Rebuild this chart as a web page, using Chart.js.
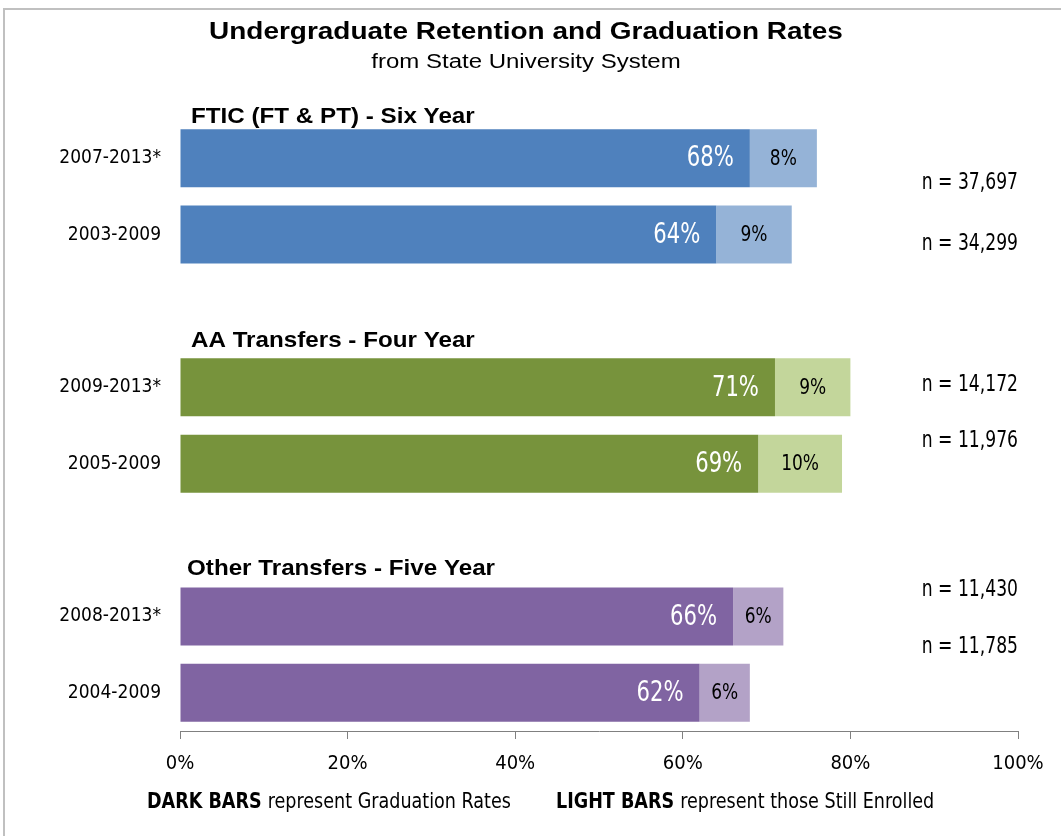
<!DOCTYPE html>
<html>
<head>
<meta charset="utf-8">
<script src="https://cdn.jsdelivr.net/npm/chart.js@4"></script>
<style>
  html, body { margin: 0; padding: 0; background: #fff; }
  #wrap { width: 1061px; height: 836px; position: relative; }
</style>
</head>
<body>
<div id="wrap"><canvas id="rates"></canvas></div>
<script>
const categories = ["2007-2013*", "2003-2009", "", "2009-2013*", "2005-2009", "", "2008-2013*", "2004-2009"];
const graduated = [68, 64, null, 71, 69, null, 66, 62];
const stillEnrolled = [8, 9, null, 9, 10, null, 6, 6];
const sampleSizes = ["n = 37,697", "n = 34,299", "", "n = 14,172", "n = 11,976", "", "n = 11,430", "n = 11,785"];
const groupTitles = ["FTIC (FT & PT) - Six Year", "AA Transfers - Four Year", "Other Transfers - Five Year"];
const groupStart = [0, 3, 6];
const xTicks = [0, 20, 40, 60, 80, 100];

const darkColors = ["#4f81bd", "#4f81bd", null, "#77933c", "#77933c", null, "#8064a2", "#8064a2"];
const lightColors = ["#95b3d7", "#95b3d7", null, "#c3d69b", "#c3d69b", null, "#b3a2c7", "#b3a2c7"];

const NARROW = '"Liberation Sans Narrow", "DejaVu Sans Condensed", "Liberation Sans", sans-serif';
const ARIAL = '"Liberation Sans", Arial, sans-serif';

// n = ... labels sit at uneven heights in the original
const nOffsets = [25, 9, 0, -2, -23, 0, -26, -46];
const headOffsets = [-41, -46, -48];

// text squeezed/stretched sideways to mimic the original fonts
function txt(ctx, s, x, y, font, sx, align) {
  ctx.save();
  ctx.font = font;
  ctx.textAlign = align;
  ctx.translate(x, y);
  ctx.scale(sx, 1);
  ctx.fillText(s, 0, 0);
  const w = ctx.measureText(s).width * sx;
  ctx.restore();
  return w;
}

const overlay = {
  id: "overlay",
  afterDraw(chart) {
    const { ctx, scales } = chart;
    const xs = scales.x, ys = scales.y;
    ctx.save();

    // frame
    ctx.strokeStyle = "#c0c0c0";
    ctx.lineWidth = 2;
    ctx.beginPath();
    ctx.moveTo(4, 836);
    ctx.lineTo(4, 9);
    ctx.lineTo(1061, 9);
    ctx.stroke();

    ctx.fillStyle = "#000";
    ctx.textBaseline = "middle";
    txt(ctx, "Undergraduate Retention and Graduation Rates", 526, 32, "bold 24px " + ARIAL, 1.165, "center");
    txt(ctx, "from State University System", 526, 62, "20px " + ARIAL, 1.2, "center");

    // group headings
    groupTitles.forEach((t, i) => {
      const y = ys.getPixelForValue(groupStart[i]) + headOffsets[i];
      txt(ctx, t, i === 2 ? 187 : 191, y, "bold 22px " + ARIAL, 1.1, "left");
    });

    // value labels
    categories.forEach((c, i) => {
      if (graduated[i] == null) return;
      const y = ys.getPixelForValue(i);
      const xd = xs.getPixelForValue(graduated[i]);
      const xl = xs.getPixelForValue(graduated[i] + stillEnrolled[i]);
      ctx.fillStyle = "#fff";
      txt(ctx, graduated[i] + "%", xd - 16, y + 1, "28px " + NARROW, 0.84, "right");
      ctx.fillStyle = "#000";
      txt(ctx, stillEnrolled[i] + "%", (xd + xl) / 2, y + 1, "21px " + NARROW, 0.9, "center");
      txt(ctx, sampleSizes[i], 1018, y + nOffsets[i], "23px " + NARROW, 0.83, "right");
    });

    // footer
    const footer = (x, bold, rest) => {
      const w = txt(ctx, bold + " ", x, 803, "bold 21px " + NARROW, 0.93, "left");
      txt(ctx, rest, x + w, 803, "21px " + NARROW, 0.93, "left");
    };
    footer(147, "DARK BARS", "represent Graduation Rates");
    footer(556, "LIGHT BARS", "represent those Still Enrolled");

    ctx.restore();
  }
};

new Chart(document.getElementById("rates"), {
  type: "bar",
  data: {
    labels: categories,
    datasets: [
      { label: "Graduation Rates", data: graduated, backgroundColor: darkColors },
      { label: "Still Enrolled", data: stillEnrolled, backgroundColor: lightColors },
    ],
  },
  options: {
    indexAxis: "y",
    responsive: true,
    maintainAspectRatio: false,
    animation: false,
    barPercentage: 0.76,
    categoryPercentage: 1,
    layout: { padding: { top: 120, right: 43, bottom: 55, left: 0 } },
    plugins: { legend: { display: false }, tooltip: { enabled: false } },
    scales: {
      x: {
        stacked: true,
        min: 0,
        max: 100,
        afterFit: (s) => { s.height = 50; },
        afterBuildTicks: (s) => { s.ticks = xTicks.map((v) => ({ value: v })); },
        ticks: {
          color: "#000",
          padding: 13,
          font: { family: NARROW, size: 20 },
          callback: (v) => v + "%",
        },
        grid: { drawOnChartArea: false, drawTicks: true, tickLength: 8, color: "#808080" },
        border: { display: true, color: "#808080", width: 1 },
      },
      y: {
        stacked: true,
        afterFit: (s) => { s.width = 180; },
        ticks: { color: "#000", padding: 19, font: { family: NARROW, size: 19 } },
        grid: { display: false, drawTicks: false },
        border: { display: false },
      },
    },
  },
  plugins: [overlay],
});
</script>
</body>
</html>
